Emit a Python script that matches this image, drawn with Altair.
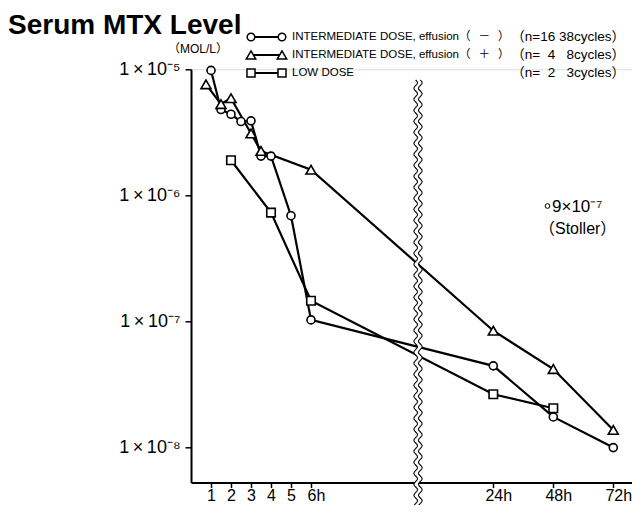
import math
import altair as alt
import pandas as pd

# ---------------- data ----------------
series_names = [
    "INTERMEDIATE DOSE, effusion（\u2002\u2009－\u2002\u2009）",
    "INTERMEDIATE DOSE, effusion（\u2002\u2009＋\u2002\u2009）",
    "LOW DOSE",
]
series_n = ["（n=16 38cycles）", "（n=\u20074 \u20078cycles）", "（n=\u20072 \u20073cycles）"]
series_shapes = ["circle", "triangle-up", "square"]
series_sizes = [64, 100, 72]

int_neg_hours = [1, 1.5, 2, 2.5, 3, 3.5, 4, 5, 6, 24, 48, 72]
int_neg_mtx = [9.8e-6, 4.8e-6, 4.4e-6, 3.85e-6, 3.9e-6, 2.05e-6, 2.05e-6, 6.9e-7, 1.03e-7, 4.45e-8, 1.75e-8, 1.0e-8]

int_pos_hours = [0.75, 1.5, 2, 3, 3.5, 6, 24, 48, 72]
int_pos_mtx = [7.6e-6, 5.3e-6, 5.9e-6, 3.1e-6, 2.25e-6, 1.6e-6, 8.45e-8, 4.2e-8, 1.38e-8]

low_hours = [2, 4, 6, 24, 48]
low_mtx = [1.9e-6, 7.3e-7, 1.46e-7, 2.65e-8, 2.05e-8]

x_tick_hours = [1, 2, 3, 4, 5, 6, 24, 48, 72]
x_tick_labels = ["1", "2", "3", "4", "5", "6h", "24h", "48h", "72h"]

y_ticks = [1e-5, 1e-6, 1e-7, 1e-8]
y_tick_labels = ["1\u2009×\u200910⁻⁵", "1\u2009×\u200910⁻⁶", "1\u2009×\u200910⁻⁷", "1\u2009×\u200910⁻⁸"]

title_text = "Serum MTX Level"
unit_text = "（MOL/L）"
stoller_value = "9×10⁻⁷"
stoller_name = "（Stoller）"

# ---------------- broken time axis ----------------
def to_pos(t):
    return t if t <= 12 else 15.115 + (t - 24) / 8.0

POS_EXPR = "datum.hours <= 12 ? datum.hours : 15.115 + (datum.hours - 24) / 8"
BREAK_POS = 11.35

rows = []
for name, hs, vs in zip(series_names, [int_neg_hours, int_pos_hours, low_hours],
                        [int_neg_mtx, int_pos_mtx, low_mtx]):
    for h, v in zip(hs, vs):
        rows.append({"series": name, "hours": h, "mtx": v})
df = pd.DataFrame(rows)

x_vals = [to_pos(h) for h in x_tick_hours]
x_expr = "'" + x_tick_labels[-1] + "'"
for i in range(len(x_vals) - 2, -1, -1):
    thr = (x_vals[i] + x_vals[i + 1]) / 2
    x_expr = f"datum.value < {thr:.4f} ? '{x_tick_labels[i]}' : ({x_expr})"

y_expr = "'" + y_tick_labels[-1] + "'"
for i in range(len(y_ticks) - 2, -1, -1):
    thr = y_ticks[i] / 3.0
    y_expr = f"datum.value > {thr:.3e} ? '{y_tick_labels[i]}' : ({y_expr})"

FONT = "Liberation Sans, Arial, Noto Sans CJK JP"
OX, OY = 191, 69.3          # page position of the plot origin (1e-5 level)
DECADE = 126.1              # pixels per decade
Y_LOW = 10 ** (-8 - 35.0 / DECADE)
W = 441
H = DECADE * (-5 - math.log10(Y_LOW))
PAD_B = 497 - (OY - 8) - H  # keep the whole svg within 624 x 497


def px(x):
    return x - OX


def py(y):
    return y - OY


x_enc = alt.X(
    "pos:Q",
    scale=alt.Scale(domain=[0, W / 20.0], nice=False, zero=False),
    axis=alt.Axis(values=x_vals, labelExpr=x_expr, title=None, grid=False,
                  tickSize=5, tickWidth=1.5, tickColor="black",
                  domainColor="black", domainWidth=2,
                  labelFont=FONT, labelFontSize=16, labelColor="black",
                  labelPadding=0, labelFlush=False, labelOverlap=False,
                  labelOffset={"condition": {"test": "datum.value > 5.5", "value": 5}, "value": 0}),
)
y_enc = alt.Y(
    "mtx:Q",
    scale=alt.Scale(type="log", domain=[Y_LOW, 1e-5], nice=False),
    axis=alt.Axis(values=y_ticks, labelExpr=y_expr, title=None, grid=False,
                  tickSize=6, tickWidth=1.5, tickColor="black",
                  domainColor="black", domainWidth=2,
                  labelFont=FONT, labelFontSize=18, labelColor="black",
                  labelPadding=5, labelFlush=False, labelOverlap=False),
)

base = alt.Chart(df).transform_calculate(pos=POS_EXPR)

lines = base.mark_line(color="black", strokeWidth=2.2).encode(
    x=x_enc, y=y_enc, detail="series:N")

point_layers = []
for name, shp, sz in zip(series_names, series_shapes, series_sizes):
    point_layers.append(
        base.transform_filter(alt.datum.series == name).mark_point(
            shape=shp, size=sz, filled=True, fill="white", stroke="black",
            strokeWidth=1.6, opacity=1).encode(x=x_enc, y=y_enc)
    )

# ---- axis-break wave (decoration) ----
L = 440.0
s = L / 2.0


def wave(offset, direction=1):
    pts = []
    ys = range(-220, 221) if direction > 0 else range(220, -221, -1)
    for yy in ys:
        xx = offset + 1.8 * math.sin(2 * math.pi * yy / 11.0)
        pts.append((xx / s, yy / s))
    return pts


band_pts = wave(-2.3) + wave(2.3, -1)
band_path = "M" + " L".join(f"{a:.4f},{b:.4f}" for a, b in band_pts) + " Z"
lw_path = "M" + " L".join(f"{a:.4f},{b:.4f}" for a, b in wave(-2.3))
rw_path = "M" + " L".join(f"{a:.4f},{b:.4f}" for a, b in wave(2.3))

one = pd.DataFrame({"k": [0]})
wave_y = py(300)
band = alt.Chart(one).mark_point(shape=band_path, size=L * L, filled=True, fill="white",
                                 strokeWidth=0, opacity=1).encode(
    x=alt.datum(BREAK_POS), y=alt.value(wave_y))
wl = alt.Chart(one).mark_point(shape=lw_path, size=L * L, filled=False, stroke="black",
                               strokeWidth=1.1, opacity=1).encode(
    x=alt.datum(BREAK_POS), y=alt.value(wave_y))
wr = alt.Chart(one).mark_point(shape=rw_path, size=L * L, filled=False, stroke="black",
                               strokeWidth=1.1, opacity=1).encode(
    x=alt.datum(BREAK_POS), y=alt.value(wave_y))


def text_layer(txt, x, y, size, align="left", weight="normal", baseline="middle"):
    return alt.Chart(pd.DataFrame({"t": [txt]})).mark_text(
        align=align, baseline=baseline, font=FONT, fontSize=size, fontWeight=weight,
        color="black").encode(x=alt.value(px(x)), y=alt.value(py(y)), text="t:N")


texts = [
    text_layer(title_text, 8, 33.5, 28, weight="bold", baseline="alphabetic"),
    text_layer(unit_text, 228, 49, 12, align="right"),
    text_layer(stoller_value, 552, 207, 17),
    text_layer(stoller_name, 539, 229, 16),
]
stoller_dot = alt.Chart(one).mark_point(shape="circle", size=22, filled=False, stroke="black",
                                        strokeWidth=1, opacity=1).encode(
    x=alt.value(px(547.5)), y=alt.value(py(206)))

legend_layers = []
row_y = [37, 55, 73]
for name, nt, shp, sz, ry in zip(series_names, series_n, series_shapes, series_sizes, row_y):
    legend_layers.append(alt.Chart(one).mark_rule(color="black", strokeWidth=2).encode(
        x=alt.value(px(251)), x2=alt.value(px(282)), y=alt.value(py(ry))))
    for gx in (251, 282):
        legend_layers.append(alt.Chart(one).mark_point(
            shape=shp, size=sz * 0.9, filled=True, fill="white", stroke="black",
            strokeWidth=1.5, opacity=1).encode(x=alt.value(px(gx)), y=alt.value(py(ry))))
    legend_layers.append(text_layer(name, 292, ry, 11.5))
    legend_layers.append(text_layer(nt, 625, ry, 13.5, align="right"))

chart = alt.layer(
    lines, *point_layers, band, wl, wr, stoller_dot, *texts, *legend_layers
).properties(
    width=W, height=H,
    autosize=alt.AutoSizeParams(type="none"),
    padding={"left": OX - 8, "top": OY - 8, "right": 0, "bottom": PAD_B},
).configure_view(stroke=None).configure(background="white")

chart.save("out.html", embed_options={"renderer": "svg", "actions": False})
